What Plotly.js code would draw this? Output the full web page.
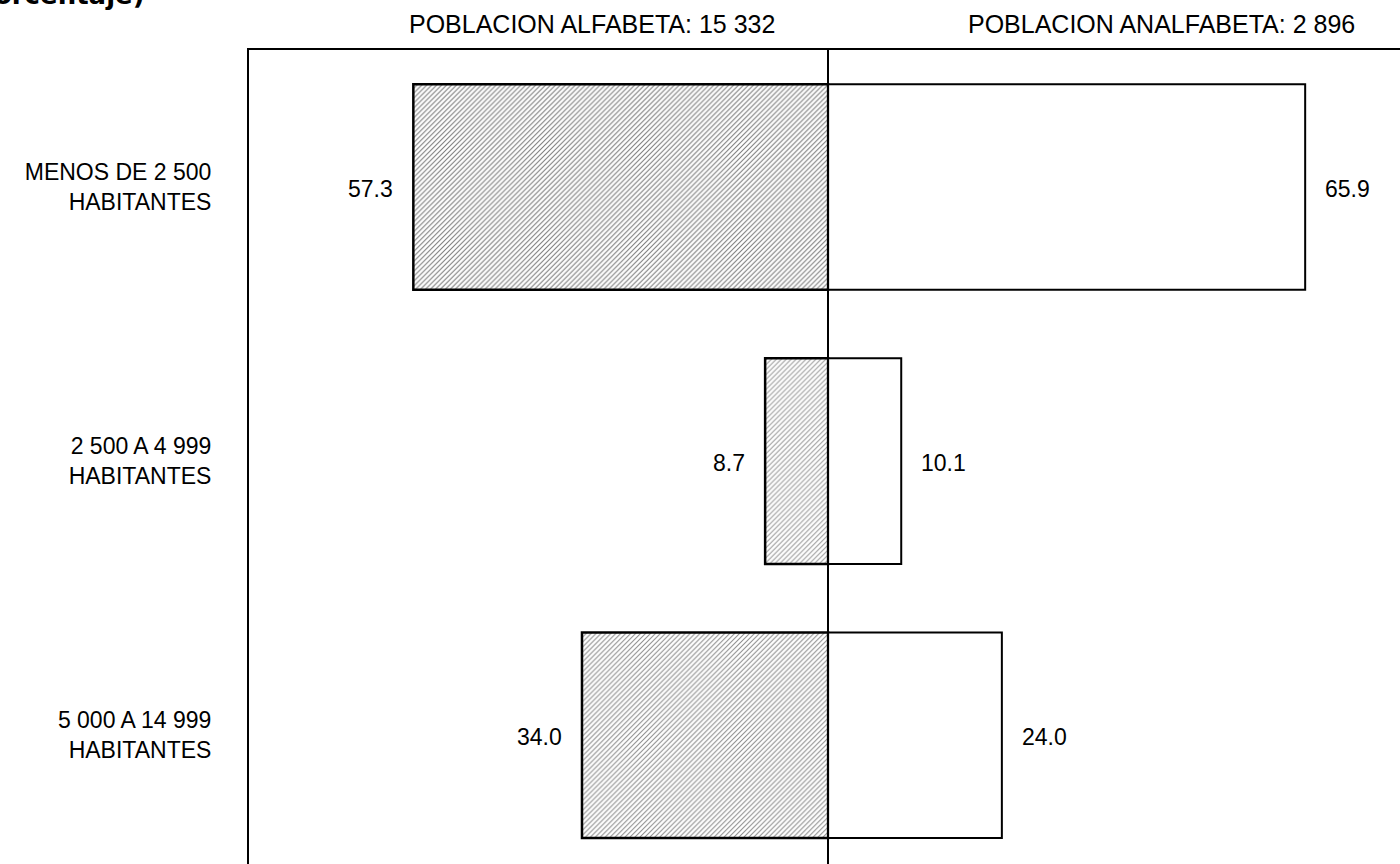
<!DOCTYPE html>
<html>
<head>
<meta charset="utf-8">
<script src="https://cdn.plot.ly/plotly-3.0.1.min.js"></script>
<style>
  body { margin: 0; background: #ffffff; }
  #chart { width: 1400px; height: 864px; }
</style>
</head>
<body>
<div id="chart"></div>
<script>
// categories (size of locality)
var categories = ["MENOS DE 2 500<br>HABITANTES", "2 500 A 4 999<br>HABITANTES", "5 000 A 14 999<br>HABITANTES"]
// percentages for each population group
var alfabeta = [57.3, 8.7, 34.0]
var analfabeta = [65.9, 10.1, 24.0]
// header texts
var headerAlfabeta = "POBLACION ALFABETA: 15 332"
var headerAnalfabeta = "POBLACION ANALFABETA: 2 896"
var titleText = "(Porcentaje)"

var font = "Liberation Sans, Arial, Helvetica, sans-serif"

// left side bars go to negative values
var leftX = alfabeta.map(function (v) { return -v })

var plot_data = [
  {
    type: "bar",
    orientation: "h",
    y: categories,
    x: leftX,
    width: 0.75,
    marker: {
      color: "#ffffff",
      line: {color: "#000000", width: 2.5},
      pattern: {
        shape: "/",
        fgcolor: ["#7a7a7a", "#9a9a9a", "#8c8c8c"],
        bgcolor: "#ffffff",
        size: 3.5,
        solidity: 0.3
      }
    },
    hoverinfo: "skip"
  },
  {
    type: "bar",
    orientation: "h",
    y: categories,
    x: analfabeta,
    width: 0.75,
    marker: {color: "#ffffff", line: {color: "#000000", width: 2}},
    hoverinfo: "skip"
  }
]

// value labels next to the bar ends
var annotations = []
for (var i = 0; i < categories.length; i++) {
  annotations.push({
    x: -alfabeta[i], y: categories[i], xref: "x", yref: "y",
    text: alfabeta[i].toFixed(1), showarrow: false,
    xanchor: "right", xshift: -18, yshift: -2,
    font: {family: font, size: 23, color: "#000000"}
  })
  annotations.push({
    x: analfabeta[i], y: categories[i], xref: "x", yref: "y",
    text: analfabeta[i].toFixed(1), showarrow: false,
    xanchor: "left", xshift: 18, yshift: -2,
    font: {family: font, size: 23, color: "#000000"}
  })
}

// headers above the plot
annotations.push({
  x: 0.2976, y: 1.032, xref: "paper", yref: "paper",
  text: headerAlfabeta, showarrow: false, xanchor: "center", yanchor: "middle",
  font: {family: font, size: 25, color: "#000000"}
})
annotations.push({
  x: 0.7924, y: 1.032, xref: "paper", yref: "paper",
  text: headerAnalfabeta, showarrow: false, xanchor: "center", yanchor: "middle",
  font: {family: font, size: 25, color: "#000000"}
})
// cut off title at the top left (the source scan is cropped here)
annotations.push({
  x: -0.0886, y: 1.047, xref: "paper", yref: "paper",
  text: "<b>" + titleText + "</b>", showarrow: false, xanchor: "right", yanchor: "bottom",
  font: {family: "DejaVu Sans, sans-serif", size: 26, color: "#000000"}
})

var layout = {
  width: 1400,
  height: 864,
  margin: {l: 249, r: 0, t: 50, b: 0, pad: 0},
  paper_bgcolor: "#ffffff",
  plot_bgcolor: "#ffffff",
  showlegend: false,
  barmode: "overlay",
  xaxis: {
    range: [-80, 79],
    side: "top",
    showline: true,
    linecolor: "#000000",
    linewidth: 2,
    showgrid: false,
    showticklabels: false,
    ticks: "",
    zeroline: true,
    zerolinecolor: "#000000",
    zerolinewidth: 1.5,
    fixedrange: true
  },
  yaxis: {
    type: "category",
    range: [2.47, -0.5],
    showline: true,
    linecolor: "#000000",
    linewidth: 2,
    showgrid: false,
    zeroline: false,
    ticks: "",
    ticklabelstandoff: 31,
    tickfont: {family: font, size: 23, color: "#000000"},
    fixedrange: true
  },
  annotations: annotations
}

Plotly.newPlot("chart", plot_data, layout, {displayModeBar: false, staticPlot: true})
</script>
</body>
</html>
